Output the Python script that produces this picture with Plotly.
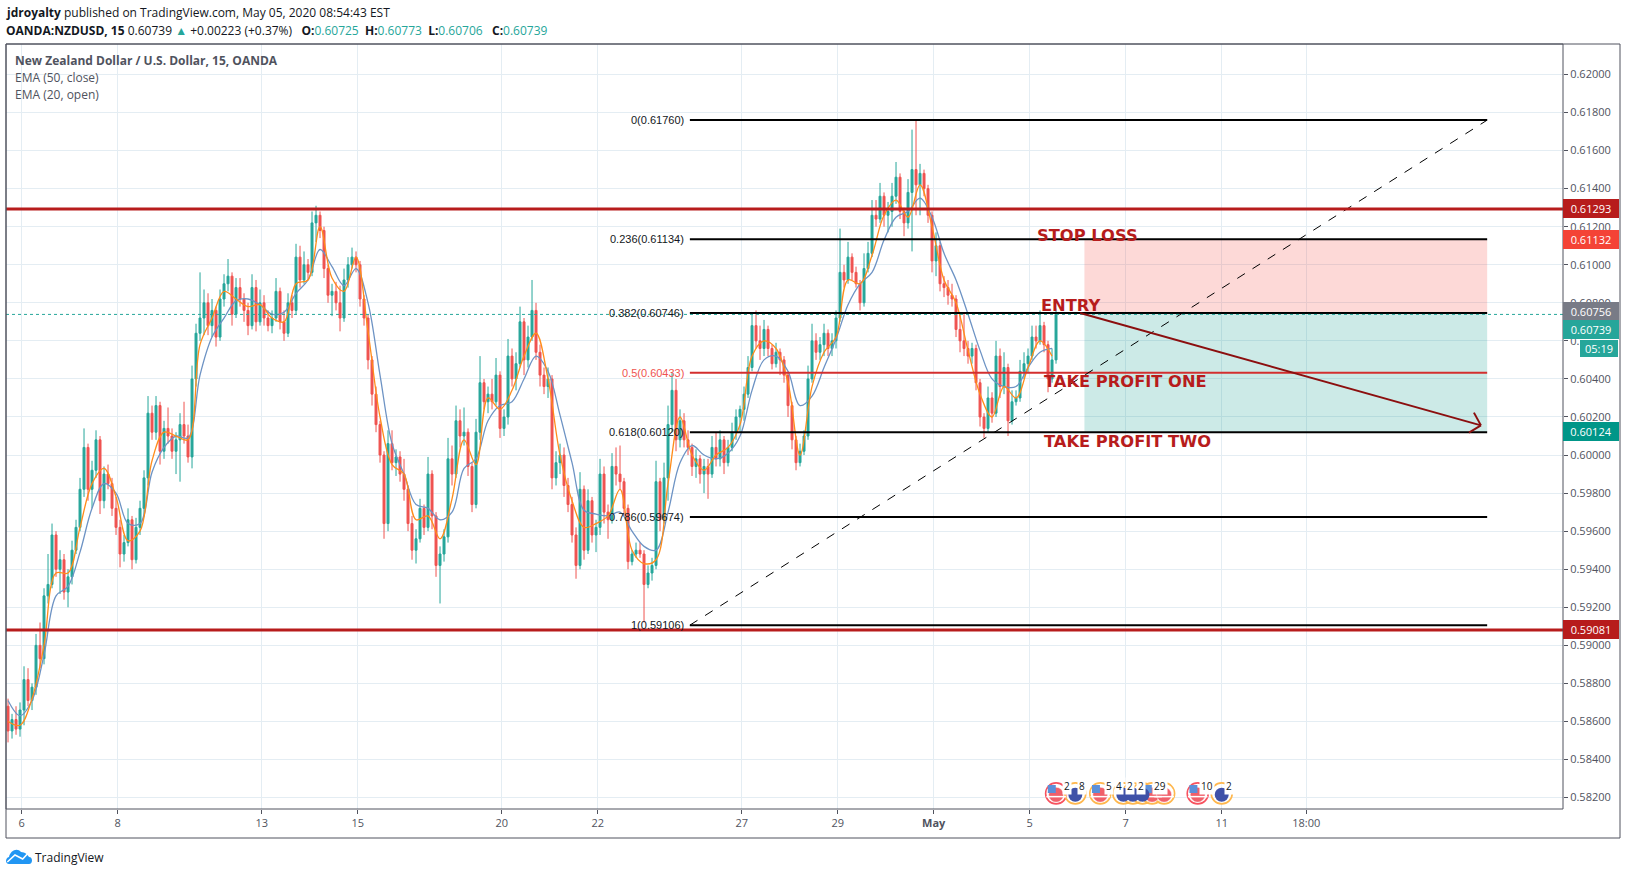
import numpy as np
import plotly.graph_objects as go

# prices in units of 0.0001, one candle per two hours of the 15m chart
first_open = 5868
highs = [
    5872, 5864, 5868, 5870, 5889, 5888, 5880, 5906, 5912, 5930, 5948, 5964, 5960, 5950, 5948, 5940, 5955, 5966, 5988, 6014,
    6006, 5997, 6013, 6010, 5994, 5995, 5988, 5978, 5966, 5958, 5972, 5968, 5967, 5976, 5992, 6031, 6026, 6031, 6028, 6018,
    6025, 6014, 6012, 6022, 6028, 6016, 6047, 6069, 6096, 6087, 6085, 6082, 6078, 6087, 6095, 6103, 6096, 6093, 6093, 6085,
    6080, 6095, 6092, 6087, 6084, 6076, 6076, 6093, 6088, 6076, 6085, 6084, 6111, 6110, 6107, 6103, 6128, 6131, 6128, 6120,
    6100, 6090, 6091, 6089, 6098, 6104, 6109, 6107, 6102, 6084, 6074, 6052, 6036, 6018, 6002, 6013, 6013, 6003, 6002, 5998,
    5984, 5968, 5961, 5977, 5974, 5999, 5992, 5970, 5952, 5961, 6009, 6005, 6026, 6024, 6025, 6014, 5996, 6019, 6052, 6040,
    6036, 6040, 6051, 6044, 6024, 6061, 6056, 6054, 6078, 6072, 6068, 6092, 6080, 6058, 6046, 6046, 6042, 6002, 6006, 6004,
    5988, 5978, 5962, 5991, 5984, 5982, 5978, 5966, 5998, 5994, 5974, 6001, 6004, 6005, 5988, 5974, 5950, 5954, 5954, 5950,
    5942, 5946, 5997, 5988, 5996, 6026, 6043, 6040, 6024, 6022, 6013, 6006, 6003, 6000, 5998, 5998, 6010, 6012, 6013, 6010,
    6008, 6017, 6024, 6026, 6036, 6052, 6075, 6076, 6068, 6071, 6068, 6058, 6059, 6056, 6052, 6044, 6028, 6010, 6006, 6013,
    6047, 6069, 6064, 6062, 6069, 6066, 6064, 6076, 6119, 6100, 6112, 6106, 6099, 6092, 6106, 6112, 6134, 6134, 6143, 6138,
    6133, 6143, 6154, 6148, 6130, 6145, 6171, 6176, 6153, 6150, 6142, 6128, 6117, 6112, 6094, 6092, 6090, 6084, 6075, 6075,
    6060, 6059, 6058, 6040, 6022, 6036, 6033, 6060, 6056, 6054, 6048, 6034, 6034, 6050, 6054, 6056, 6068, 6068, 6076, 6070,
    6060, 6056, 6077,
]
lows = [
    5849, 5851, 5853, 5852, 5858, 5868, 5866, 5874, 5888, 5890, 5922, 5930, 5936, 5927, 5924, 5920, 5932, 5948, 5960, 5978,
    5976, 5972, 5988, 5969, 5972, 5982, 5968, 5958, 5941, 5944, 5952, 5940, 5943, 5958, 5968, 5984, 6008, 6008, 5995, 5998,
    6006, 5998, 5990, 5986, 6006, 5996, 5993, 6036, 6060, 6063, 6063, 6062, 6057, 6060, 6078, 6086, 6068, 6072, 6078, 6070,
    6063, 6066, 6065, 6068, 6068, 6065, 6064, 6070, 6066, 6060, 6062, 6072, 6074, 6088, 6090, 6092, 6094, 6112, 6114, 6093,
    6080, 6073, 6076, 6065, 6070, 6088, 6098, 6096, 6078, 6068, 6045, 6026, 6012, 5996, 5956, 5960, 5992, 5989, 5986, 5976,
    5960, 5945, 5943, 5954, 5958, 5960, 5961, 5936, 5922, 5944, 5954, 5984, 5988, 6004, 6005, 5989, 5970, 5972, 6008, 6024,
    6022, 6024, 6026, 6009, 6010, 6016, 6036, 6034, 6046, 6042, 6046, 6060, 6050, 6036, 6032, 6030, 5982, 5984, 5990, 5978,
    5970, 5954, 5935, 5940, 5945, 5948, 5954, 5949, 5958, 5964, 5956, 5964, 5984, 5982, 5968, 5940, 5942, 5946, 5946, 5912,
    5930, 5934, 5940, 5960, 5964, 5976, 6012, 6002, 6004, 6004, 6000, 5989, 5988, 5985, 5980, 5977, 5988, 5994, 5994, 5990,
    5994, 6002, 6008, 6012, 6018, 6030, 6044, 6056, 6050, 6052, 6052, 6045, 6046, 6042, 6038, 6020, 6003, 5992, 5994, 6000,
    6008, 6038, 6050, 6050, 6052, 6052, 6052, 6056, 6070, 6088, 6090, 6092, 6088, 6076, 6078, 6096, 6104, 6120, 6122, 6120,
    6117, 6120, 6132, 6124, 6115, 6119, 6107, 6126, 6126, 6136, 6122, 6096, 6094, 6086, 6083, 6079, 6078, 6062, 6054, 6052,
    6048, 6048, 6034, 6015, 6009, 6012, 6017, 6020, 6030, 6032, 6010, 6016, 6026, 6028, 6040, 6043, 6050, 6056, 6058, 6054,
    6033, 6038, 6048,
]
closes = [
    5855, 5861, 5856, 5866, 5882, 5871, 5878, 5900, 5893, 5926, 5932, 5958, 5940, 5945, 5928, 5936, 5950, 5962, 5982, 6004,
    5982, 5992, 6008, 5976, 5990, 5985, 5972, 5962, 5948, 5954, 5966, 5945, 5962, 5972, 5988, 6022, 6012, 6026, 6002, 6014,
    6010, 6002, 6008, 6016, 6010, 5999, 6040, 6064, 6072, 6080, 6068, 6076, 6062, 6082, 6090, 6094, 6074, 6088, 6082, 6076,
    6068, 6088, 6070, 6080, 6072, 6068, 6072, 6086, 6070, 6064, 6080, 6076, 6104, 6092, 6100, 6096, 6122, 6126, 6118, 6098,
    6084, 6086, 6080, 6072, 6092, 6100, 6104, 6100, 6082, 6072, 6050, 6032, 6016, 6000, 5964, 6006, 5996, 5999, 5990, 5982,
    5964, 5950, 5956, 5972, 5962, 5990, 5968, 5942, 5948, 5957, 5998, 5990, 6018, 6010, 6012, 5994, 5974, 6012, 6038, 6028,
    6032, 6028, 6042, 6014, 6020, 6052, 6040, 6048, 6070, 6050, 6062, 6076, 6054, 6042, 6036, 6040, 5988, 5996, 6000, 5984,
    5974, 5958, 5942, 5982, 5950, 5976, 5958, 5962, 5990, 5970, 5966, 5994, 5990, 5986, 5972, 5944, 5948, 5950, 5948, 5932,
    5938, 5942, 5986, 5966, 5988, 6016, 6034, 6008, 6018, 6008, 6004, 5994, 5998, 5990, 5994, 5990, 6004, 5998, 6008, 5996,
    6004, 6012, 6020, 6024, 6032, 6046, 6068, 6060, 6056, 6066, 6056, 6048, 6054, 6050, 6042, 6026, 6008, 5996, 6002, 6010,
    6040, 6060, 6054, 6058, 6064, 6056, 6060, 6072, 6096, 6092, 6104, 6096, 6090, 6080, 6098, 6106, 6126, 6124, 6136, 6126,
    6128, 6136, 6146, 6128, 6122, 6138, 6150, 6142, 6148, 6140, 6126, 6102, 6110, 6090, 6088, 6084, 6082, 6066, 6060, 6056,
    6052, 6056, 6038, 6020, 6014, 6030, 6022, 6052, 6036, 6046, 6018, 6028, 6030, 6044, 6048, 6052, 6062, 6060, 6068, 6058,
    6040, 6050, 6074,
]
# EMAs, read at every third candle
ema50_close = [
    5871, 5863, 5871, 5895, 5926, 5931, 5949, 5972, 5985, 5980, 5964, 5964, 5991, 6004, 6010, 6009, 6042, 6062, 6072, 6081,
    6082, 6079, 6074, 6075, 6085, 6092, 6108, 6099, 6089, 6098, 6080, 6042, 6006, 5990, 5974, 5972, 5966, 5970, 5993, 5998,
    6018, 6026, 6028, 6040, 6052, 6044, 6021, 5996, 5971, 5969, 5968, 5970, 5960, 5952, 5950, 5970, 5996, 6005, 6000, 5998,
    6001, 6010, 6034, 6050, 6052, 6044, 6026, 6031, 6046, 6061, 6079, 6090, 6096, 6113, 6125, 6128, 6135, 6125, 6106, 6092,
    6074, 6055, 6040, 6036, 6036, 6046, 6054, 6056,
]
ema20_open = [
    5860, 5858, 5872, 5900, 5938, 5938, 5962, 5985, 5993, 5978, 5955, 5960, 5997, 6012, 6010, 6008, 6058, 6072, 6086, 6082,
    6078, 6079, 6072, 6070, 6090, 6092, 6120, 6093, 6086, 6104, 6065, 6020, 5995, 5990, 5966, 5968, 5956, 5977, 6008, 5995,
    6030, 6024, 6034, 6052, 6064, 6040, 6000, 5976, 5962, 5964, 5968, 5982, 5950, 5943, 5945, 5985, 6020, 6000, 5992, 6000,
    6004, 6016, 6052, 6060, 6056, 6038, 6000, 6036, 6054, 6062, 6092, 6090, 6105, 6126, 6134, 6125, 6142, 6120, 6092, 6080,
    6055, 6032, 6020, 6036, 6030, 6046, 6060, 6052,
]
assert len(highs) == len(lows) == len(closes) and len(ema50_close) == len(ema20_open)

fib_levels = [0.61760, 0.61134, 0.60746, 0.60433, 0.60120, 0.59674, 0.59106]
fib_names = ["0", "0.236", "0.382", "0.5", "0.618", "0.786", "1"]
red_levels = [0.61293, 0.59081]
last_price = 0.60739
stop_price = 0.61134
entry_price = 0.60746
target_price = 0.60120

# x axis counts trading days from the 6th
tick_days = [0, 2, 5, 7, 10, 12, 15, 17, 19, 21, 23, 25, 26.76]
tick_names = ["6", "8", "13", "15", "20", "22", "27", "29", "<b>May</b>", "5", "7", "11", "18:00"]
price_ticks = [0.582 + 0.002 * i for i in range(20)]

# calendar events along the bottom: day, kind, ring colour, day of its count label, count
event_days = [21.55, 21.95, 22.47, 22.95, 23.15, 23.35, 23.55, 23.8, 24.5, 25.0]
event_kinds = ["US", "NZ", "US", "NZ", "NZ", "NZ", "US", "US", "US", "NZ"]
event_rings = ["#f7525f", "#ffb74d", "#ffb74d", "#ffb74d", "#ffb74d", "#ffb74d", "#ffb74d", "#ffb74d", "#f7525f", "#ffb74d"]
count_days = [21.78, 22.08, 22.66, 22.85, 23.08, 23.31, 23.72, 24.7, 25.15]
count_names = ["2", "8", "5", "4", "2", "2", "29", "10", "2"]

GREEN = "#26a69a"
RED = "#ef5350"
DARK_RED = "#b71c1c"
TEXT = "#50535e"
GRID = "#e4edf3"
SANS = "Open Sans"

# plot rectangle on the page, in pixels
LEFT, RIGHT, TOP, BOTTOM = 6, 1563, 44, 809


def page_x(px):
    return (px - LEFT) / (RIGHT - LEFT)


def page_y(py):
    return (BOTTOM - py) / (BOTTOM - TOP)


closes_px = np.array(closes) * 1e-4
opens_px = np.array([first_open] + closes[:-1]) * 1e-4
bar_days = -0.285 + np.arange(len(closes)) / 12
ema_days = bar_days[::3]

fig = go.Figure()
fig.add_trace(go.Candlestick(
    x=bar_days, open=opens_px, high=np.array(highs) * 1e-4, low=np.array(lows) * 1e-4, close=closes_px,
    increasing=dict(line=dict(color=GREEN, width=1), fillcolor=GREEN),
    decreasing=dict(line=dict(color=RED, width=1), fillcolor=RED),
    whiskerwidth=0, showlegend=False, hoverinfo="skip",
))
fig.add_trace(go.Scatter(x=ema_days, y=np.array(ema50_close) * 1e-4, mode="lines", showlegend=False,
                         line=dict(color="#6d93c4", width=1.3, shape="spline"), hoverinfo="skip"))
fig.add_trace(go.Scatter(x=ema_days, y=np.array(ema20_open) * 1e-4, mode="lines", showlegend=False,
                         line=dict(color="#ff8c1a", width=1.3, shape="spline"), hoverinfo="skip"))

# event bubbles
ev_y = [0.58222] * len(event_days)
fig.add_trace(go.Scatter(x=event_days, y=ev_y, mode="markers", showlegend=False, hoverinfo="skip",
                         marker=dict(size=21, color="rgba(255,255,255,0.5)", line=dict(color=event_rings, width=1.6))))
us_days = [d for d, k in zip(event_days, event_kinds) if k == "US"]
nz_days = [d for d, k in zip(event_days, event_kinds) if k == "NZ"]
fig.add_trace(go.Scatter(x=us_days, y=[0.58215] * len(us_days), mode="markers", showlegend=False, hoverinfo="skip",
                         marker=dict(size=15, color="#f0606a", line=dict(color="#ffffff", width=0.5))))
fig.add_trace(go.Scatter(x=us_days, y=[0.58205] * len(us_days), mode="markers", showlegend=False, hoverinfo="skip",
                         marker=dict(size=14, symbol="line-ew", line=dict(color="#ffffff", width=1.5))))
fig.add_trace(go.Scatter(x=[d - 0.09 for d in us_days], y=[0.58245] * len(us_days), mode="markers", showlegend=False,
                         hoverinfo="skip", marker=dict(size=8, symbol="square", color="#5b8fd9")))
fig.add_trace(go.Scatter(x=nz_days, y=[0.58215] * len(nz_days), mode="markers", showlegend=False, hoverinfo="skip",
                         marker=dict(size=14, color="#3f51a8")))

shapes = []
# position boxes first so the fib lines sit on top
box_x0, box_x1 = 22.14, 30.53
shapes.append(dict(type="rect", x0=box_x0, x1=box_x1, y0=entry_price, y1=stop_price, line_width=0,
                   fillcolor="rgba(244,67,54,0.2)"))
shapes.append(dict(type="rect", x0=box_x0, x1=box_x1, y0=target_price, y1=entry_price, line_width=0,
                   fillcolor="rgba(0,150,136,0.2)"))
for lvl, name in zip(fib_levels, fib_names):
    colour = "#d32f2f" if name == "0.5" else "#000000"
    shapes.append(dict(type="line", x0=13.92, x1=box_x1, y0=lvl, y1=lvl, line=dict(color=colour, width=2)))
shapes.append(dict(type="line", x0=13.92, x1=box_x1, y0=fib_levels[-1], y1=fib_levels[0],
                   line=dict(color="#000000", width=1, dash="dash")))
for lvl in red_levels:
    shapes.append(dict(type="line", xref="paper", x0=0, x1=1, y0=lvl, y1=lvl, line=dict(color=DARK_RED, width=3)))
shapes.append(dict(type="line", xref="paper", x0=0, x1=1, y0=last_price, y1=last_price,
                   line=dict(color=GREEN, width=1, dash="dot")))
# arrow, head drawn as two strokes because the original is an open head
arrow = dict(color="#8b0f0f", width=2)
shapes.append(dict(type="line", x0=22.05, x1=30.40, y0=entry_price, y1=0.60156, line=arrow))
shapes.append(dict(type="line", x0=30.254, x1=30.40, y0=0.60223, y1=0.60156, line=arrow))
shapes.append(dict(type="line", x0=30.15, x1=30.40, y0=0.60118, y1=0.60156, line=arrow))
# frame
frame = dict(color=TEXT, width=1)
shapes.append(dict(type="rect", xref="paper", yref="paper", x0=0, x1=1, y0=0, y1=1, line=frame))
shapes.append(dict(type="rect", xref="paper", yref="paper", x0=0, x1=page_x(1620), y0=page_y(838), y1=1, line=frame))
# TradingView cloud with its white zigzag, pixels from the plot's bottom left corner
logo = dict(type="path", xref="paper", yref="paper", xsizemode="pixel", ysizemode="pixel", xanchor=0, yanchor=0)
shapes.append(dict(logo, fillcolor="#2196f3", line_width=0,
                   path="M 3 -55 C -1 -55 -1 -49 3 -48 C 4 -42 11 -38 15 -43 C 19 -43 22 -46 23 -48 C 27 -48 27 -55 23 -55 Z"))
shapes.append(dict(logo, line=dict(color="#ffffff", width=1.6), path="M 1.3 -53 L 9 -46 L 16.7 -50 L 22 -44.3"))

notes = []


def note(text, px, py, size=12, colour=TEXT, anchor="left", family=SANS):
    notes.append(dict(text=text, xref="paper", yref="paper", x=page_x(px), y=page_y(py), xanchor=anchor,
                      yanchor="middle", showarrow=False, font=dict(family=family, size=size, color=colour)))


teal = lambda s: f'<span style="color:{GREEN}">{s}</span>'
gap = "&nbsp;&nbsp;"
note("<b>jdroyalty</b> published on TradingView.com, May 05, 2020 08:54:43 EST", 4, 13, colour="#131722")
note("<b>OANDA:NZDUSD, 15</b> 0.60739 " + teal("▲") + " +0.00223 (+0.37%)" + gap + "&nbsp;<b>O:</b>" + teal("0.60725")
     + gap + "<b>H:</b>" + teal("0.60773") + gap + "<b>L:</b>" + teal("0.60706") + gap + "&nbsp;<b>C:</b>" + teal("0.60739"),
     4, 30, colour="#131722")
note("<b>New Zealand Dollar / U.S. Dollar, 15, OANDA</b>", 13, 60.5)
note("EMA (50, close)", 13, 77.5)
note("EMA (20, open)", 13, 94.5)
note("TradingView", 32.5, 857, colour="#131722")

for lvl, name in zip(fib_levels, fib_names):
    notes.append(dict(text=f"{name}({lvl:.5f})", x=13.84, y=lvl, xanchor="right", yanchor="middle", showarrow=False,
                      font=dict(family="Liberation Sans", size=11, color="#ef5350" if name == "0.5" else "#131722")))

for text, day, price in [("STOP LOSS", 21.10, 0.61156), ("ENTRY", 21.2, 0.60788),
                         ("TAKE PROFIT ONE", 21.25, 0.60389), ("TAKE PROFIT TWO", 21.25, 0.60071)]:
    notes.append(dict(text=f"<b>{text}</b>", x=day, y=price, xanchor="left", yanchor="middle", showarrow=False,
                      font=dict(family="DejaVu Sans", size=16.3, color=DARK_RED)))

# price labels on the axis: text, price, pixel shift, background, width
for text, price, shift, bg, wide in [("0.61293", 0.61293, 0, DARK_RED, 52), ("0.61132", 0.61132, 0, "#f44336", 52),
                                     ("0.60756", 0.60756, 0, "#787b86", 52), ("0.60739", last_price, -15, GREEN, 52),
                                     ("0.60124", 0.60124, 0, "#009688", 52), ("0.59081", 0.59081, 0, DARK_RED, 52)]:
    notes.append(dict(text=text, xref="paper", x=1, y=price, yshift=shift, xanchor="left", yanchor="middle",
                      showarrow=False, width=wide, height=15, borderpad=2, borderwidth=0,
                      bgcolor=bg, font=dict(family=SANS, size=11, color="#ffffff")))
notes.append(dict(text="05:19", xref="paper", x=page_x(1579), y=last_price, yshift=-34, xanchor="left", yanchor="middle",
                  showarrow=False, width=36, height=15, borderpad=1, borderwidth=1, bordercolor="#ffffff",
                  bgcolor=GREEN, font=dict(family=SANS, size=11, color="#ffffff")))

for day, name in zip(count_days, count_names):
    notes.append(dict(text=name, x=day, y=0.5826, xanchor="center", yanchor="middle", showarrow=False,
                      bgcolor="#ffffff", font=dict(family=SANS, size=10, color="#131722")))

fig.update_layout(
    width=1627, height=875, margin=dict(l=LEFT, r=1627 - RIGHT, t=TOP, b=875 - BOTTOM),
    paper_bgcolor="#ffffff", plot_bgcolor="#ffffff", hovermode=False, showlegend=False,
    shapes=shapes, annotations=notes,
    xaxis=dict(range=[-0.327, 32.11], tickmode="array", tickvals=tick_days, ticktext=tick_names,
               rangeslider=dict(visible=False), showgrid=True, gridcolor=GRID, gridwidth=1, zeroline=False,
               ticks="outside", ticklen=4, tickcolor=TEXT, tickfont=dict(family=SANS, size=11, color=TEXT)),
    yaxis=dict(range=[0.5814, 0.6216], side="right", tickmode="array", tickvals=price_ticks,
               ticktext=[f"{p:.5f}" for p in price_ticks], showgrid=True, gridcolor=GRID, gridwidth=1, zeroline=False,
               ticks="outside", ticklen=4, tickcolor=TEXT, tickfont=dict(family=SANS, size=11, color=TEXT)),
)

fig.write_html("out.html", config=dict(displayModeBar=False), post_script="document.body.style.margin='0'")
